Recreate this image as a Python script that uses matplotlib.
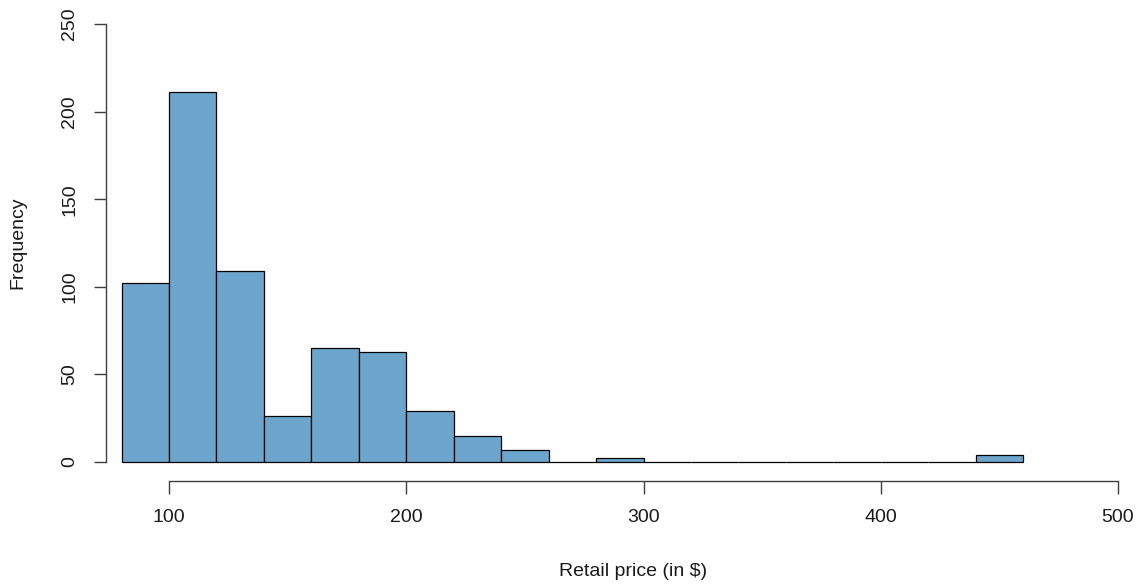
import matplotlib
matplotlib.use("Agg")
import matplotlib.pyplot as plt
import numpy as np

plt.rcParams['font.family'] = ['Liberation Sans', 'DejaVu Sans']

bin_edges = list(range(80, 461, 20))
counts = [102, 211, 109, 26, 65, 63, 29, 15, 7, 0, 2, 0, 0, 0, 0, 0, 0, 0, 4]
x_ticks = [100, 200, 300, 400, 500]
y_ticks = [0, 50, 100, 150, 200, 250]
x_label = "Retail price (in $)"
y_label = "Frequency"

W, H = 1142, 587
fig = plt.figure(figsize=(W / 100, H / 100), dpi=100)

# pixel mapping
px_per_x = (1118 - 169) / 400.0
px_per_y = (462 - 24) / 250.0
ax_left_px, ax_right_px = 100, 1140
ax_top_px, ax_bot_px = 10, 500
xmin = 100 - (169 - ax_left_px) / px_per_x
xmax = 100 + (ax_right_px - 169) / px_per_x
ymin = -(ax_bot_px - 462) / px_per_y
ymax = (462 - ax_top_px) / px_per_y

ax = fig.add_axes([ax_left_px / W, 1 - ax_bot_px / H,
                   (ax_right_px - ax_left_px) / W, (ax_bot_px - ax_top_px) / H])
ax.set_xlim(xmin, xmax)
ax.set_ylim(ymin, ymax)

lefts = bin_edges[:-1]
widths = [bin_edges[i + 1] - bin_edges[i] for i in range(len(lefts))]
ax.bar(lefts, counts, width=widths, align='edge', color='#6CA6CD',
       edgecolor='black', linewidth=0.9, zorder=2)

for s in ['top', 'right']:
    ax.spines[s].set_visible(False)
yaxis_x = 100 - (169 - 106) / px_per_x
xaxis_y = -(481 - 462) / px_per_y
ax.spines['left'].set_position(('data', yaxis_x))
ax.spines['left'].set_bounds(0, 250)
ax.spines['bottom'].set_position(('data', xaxis_y))
ax.spines['bottom'].set_bounds(100, 500)
for s in ['left', 'bottom']:
    ax.spines[s].set_color('#404040')
    ax.spines[s].set_linewidth(1.0)

ax.set_xticks(x_ticks)
ax.set_yticks(y_ticks)
ax.set_xticklabels([str(v) for v in x_ticks])
ax.set_yticklabels([str(v) for v in y_ticks], rotation=90, va='center')
ax.tick_params(axis='both', direction='out', length=9, width=1.0,
               color='#404040', labelsize=14, labelcolor='#1a1a1a', pad=11)

fig.text(633 / W, 1 - 571 / H, x_label, ha='center', va='center',
         fontsize=14, color='#1a1a1a')
fig.text(18 / W, 1 - 243 / H, y_label, ha='center', va='center',
         rotation=90, fontsize=14, color='#1a1a1a')

fig.savefig("out.png", dpi=100)
